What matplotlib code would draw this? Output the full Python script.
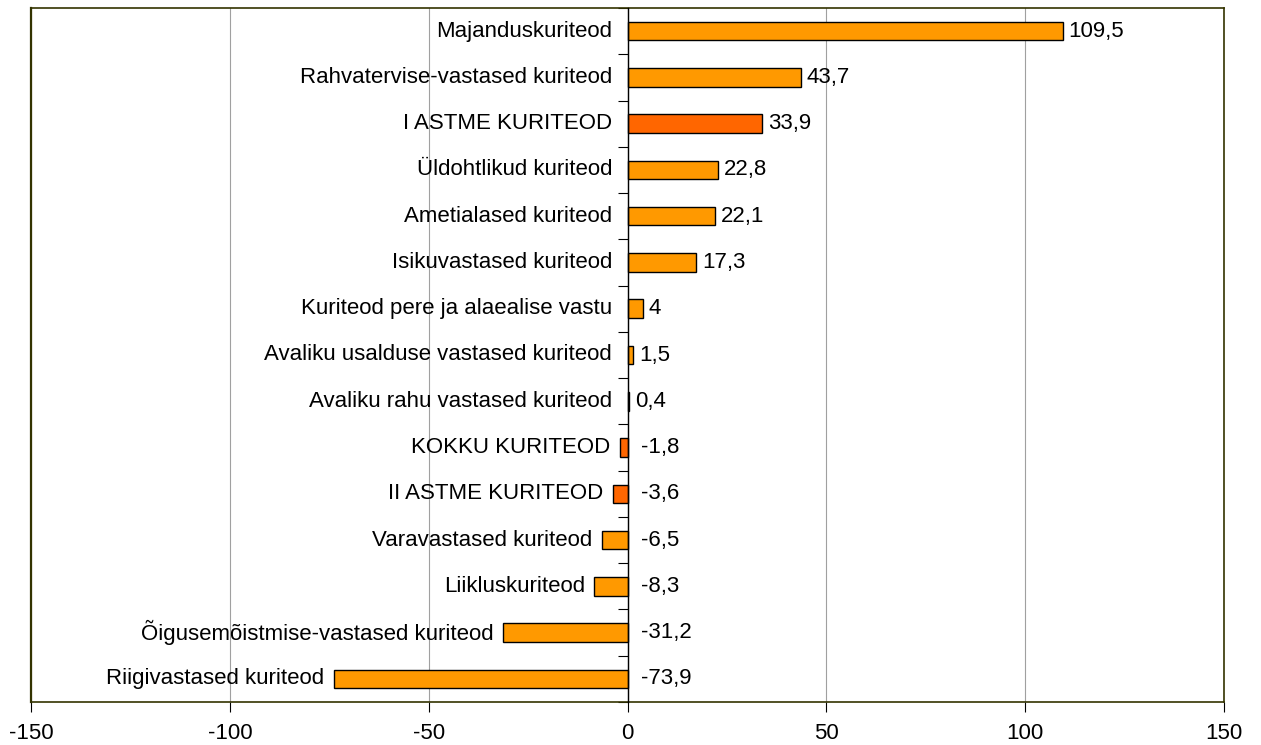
import matplotlib
matplotlib.use("Agg")
import matplotlib.pyplot as plt
import numpy as np

plt.rcParams['font.family'] = ['Liberation Sans', 'DejaVu Sans']

categories = [
    "Majanduskuriteod",
    "Rahvatervise-vastased kuriteod",
    "I ASTME KURITEOD",
    "Üldohtlikud kuriteod",
    "Ametialased kuriteod",
    "Isikuvastased kuriteod",
    "Kuriteod pere ja alaealise vastu",
    "Avaliku usalduse vastased kuriteod",
    "Avaliku rahu vastased kuriteod",
    "KOKKU KURITEOD",
    "II ASTME KURITEOD",
    "Varavastased kuriteod",
    "Liikluskuriteod",
    "Õigusemõistmise-vastased kuriteod",
    "Riigivastased kuriteod",
]
values = [109.5, 43.7, 33.9, 22.8, 22.1, 17.3, 4, 1.5, 0.4, -1.8, -3.6, -6.5, -8.3, -31.2, -73.9]
highlight = ["I ASTME KURITEOD", "KOKKU KURITEOD", "II ASTME KURITEOD"]
xticks = [-150, -100, -50, 0, 50, 100, 150]

orange = "#FF9900"
dark_orange = "#FF6600"
olive = "#333300"
fs = 16

fig = plt.figure(figsize=(12.61, 7.45), dpi=100)
ax = fig.add_axes([31/1261, 1 - 702/745, (1224-31)/1261, (702-8)/745])

y = np.arange(len(categories))
colors = [dark_orange if c in highlight else orange for c in categories]
ax.barh(y, values, height=0.4, color=colors, edgecolor="black", linewidth=1.0, zorder=3)

ax.set_xlim(-150, 150)
ax.set_ylim(len(categories) - 0.5, -0.5)

ax.set_xticks(xticks)
ax.set_xticklabels([str(t) for t in xticks], fontsize=fs)
ax.tick_params(axis='x', direction='out', length=7, width=0.8, color='black', pad=8)
ax.xaxis.grid(True, color="#A0A0A0", linewidth=0.8, zorder=0)
ax.set_axisbelow(True)

for s in ['top', 'right', 'bottom']:
    ax.spines[s].set_color(olive)
    ax.spines[s].set_linewidth(1.2)
ax.spines['left'].set_position(('data', 0))
ax.spines['left'].set_color('black')
ax.spines['left'].set_linewidth(1.0)
ax.spines['left'].set_zorder(4)
ax.axvline(-150, color=olive, linewidth=1.6, zorder=5, clip_on=False)

ax.set_yticks(np.arange(len(categories) + 1) - 0.5)
ax.set_yticklabels([])
ax.tick_params(axis='y', direction='out', length=7, width=0.8, color='black')

for yi, (cat, v) in enumerate(zip(categories, values)):
    off = -11 if v >= 0 else -7
    ax.annotate(cat, xy=(min(v, 0), yi), xytext=(off, 0), textcoords='offset points',
                ha='right', va='center', fontsize=fs, zorder=6)
    lab = f"{v:g}".replace('.', ',')
    if v >= 0:
        ax.annotate(lab, xy=(v, yi), xytext=(4, 0), textcoords='offset points',
                    ha='left', va='center', fontsize=fs, zorder=6)
    else:
        ax.annotate(lab, xy=(0, yi), xytext=(10, 0), textcoords='offset points',
                    ha='left', va='center', fontsize=fs, zorder=6)

fig.savefig("out.png", dpi=100)
